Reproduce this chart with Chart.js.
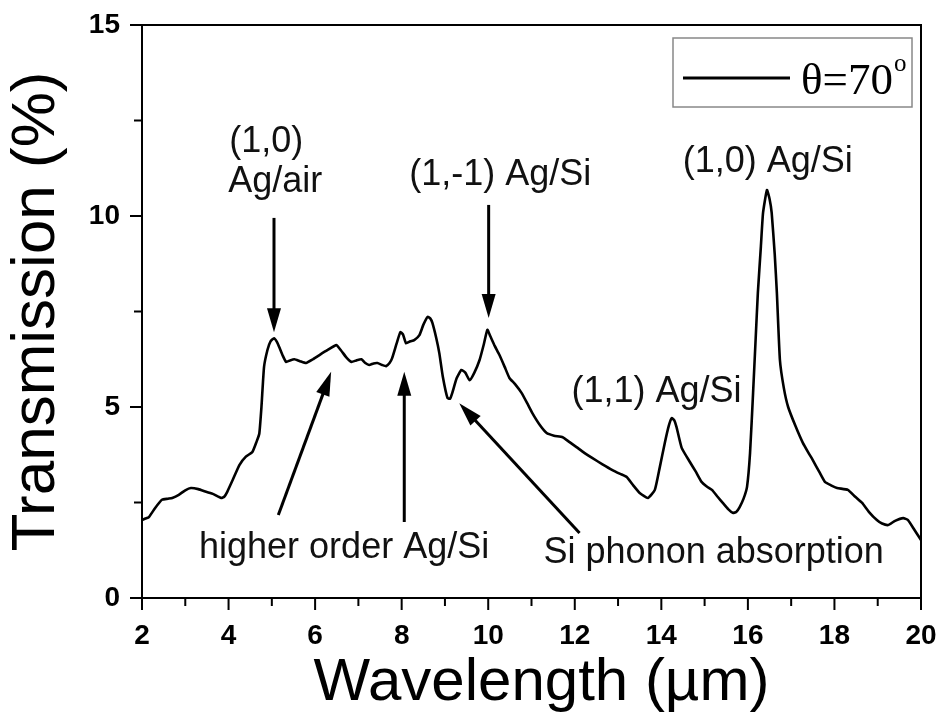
<!DOCTYPE html>
<html>
<head>
<meta charset="utf-8">
<script src="https://cdn.jsdelivr.net/npm/chart.js@4/dist/chart.umd.min.js"></script>
<style>
  html, body { margin: 0; padding: 0; background: #ffffff; }
  #wrap { width: 946px; height: 718px; }
</style>
</head>
<body>
<div id="wrap"><canvas id="chart" width="946" height="718"></canvas></div>
<script>
// Transmission spectrum at 70° incidence
const wavelength = [
  2.00, 2.08, 2.16, 2.30, 2.46, 2.60, 2.70, 2.85, 3.00, 3.13, 3.30, 3.48, 3.65, 3.83, 3.90, 3.97,
  4.10, 4.25, 4.40, 4.55, 4.65, 4.71, 4.76, 4.82, 4.90, 4.97, 5.05, 5.12, 5.17, 5.25, 5.33, 5.42,
  5.52, 5.65, 5.79, 5.95, 6.10, 6.30, 6.49, 6.60, 6.72, 6.84, 6.95, 7.07, 7.16, 7.25, 7.35, 7.44,
  7.55, 7.64, 7.72, 7.78, 7.88, 7.97, 8.03, 8.10, 8.20, 8.29, 8.41, 8.50, 8.60, 8.66, 8.71, 8.80,
  8.87, 8.95, 9.06, 9.12, 9.17, 9.27, 9.38, 9.47, 9.57, 9.68, 9.80, 9.90, 9.98, 10.05, 10.15, 10.26,
  10.38, 10.49, 10.62, 10.77, 10.90, 11.02, 11.18, 11.35, 11.52, 11.72, 11.88, 12.04, 12.22, 12.41, 12.64, 12.87,
  13.05, 13.20, 13.35, 13.50, 13.69, 13.85, 13.96, 14.08, 14.17, 14.24, 14.30, 14.35, 14.47, 14.66, 14.80, 14.93,
  15.05, 15.17, 15.30, 15.42, 15.55, 15.65, 15.73, 15.81, 15.90, 15.98, 16.05, 16.12, 16.18, 16.23, 16.30, 16.35,
  16.44, 16.50, 16.55, 16.62, 16.67, 16.74, 16.83, 16.93, 17.10, 17.27, 17.40, 17.50, 17.65, 17.78, 17.92, 18.06,
  18.31, 18.48, 18.64, 18.80, 18.98, 19.10, 19.24, 19.40, 19.59, 19.70, 19.85, 20.00
];
const transmission = [
  2.04, 2.08, 2.12, 2.35, 2.57, 2.60, 2.62, 2.70, 2.82, 2.88, 2.85, 2.78, 2.72, 2.62, 2.65, 2.78,
  3.10, 3.48, 3.70, 3.82, 4.10, 4.30, 5.00, 6.05, 6.50, 6.72, 6.80, 6.70, 6.57, 6.35, 6.18, 6.22,
  6.25, 6.20, 6.15, 6.25, 6.36, 6.50, 6.62, 6.48, 6.30, 6.18, 6.22, 6.25, 6.15, 6.10, 6.14, 6.15,
  6.10, 6.07, 6.15, 6.28, 6.65, 6.96, 6.90, 6.67, 6.72, 6.75, 6.88, 7.15, 7.36, 7.32, 7.20, 6.80,
  6.41, 5.80, 5.23, 5.22, 5.37, 5.75, 5.97, 5.90, 5.70, 5.90, 6.23, 6.65, 7.02, 6.85, 6.60, 6.36,
  6.05, 5.76, 5.60, 5.37, 5.10, 4.84, 4.55, 4.32, 4.25, 4.21, 4.08, 3.95, 3.80, 3.66, 3.50, 3.35,
  3.25, 3.17, 2.95, 2.75, 2.62, 2.83, 3.40, 4.06, 4.50, 4.71, 4.65, 4.48, 3.93, 3.56, 3.30, 3.04,
  2.92, 2.83, 2.65, 2.49, 2.32, 2.23, 2.25, 2.38, 2.60, 2.91, 3.80, 5.37, 6.80, 7.98, 9.20, 10.08,
  10.68, 10.45, 10.08, 9.00, 7.98, 6.23, 5.50, 5.00, 4.50, 4.06, 3.80, 3.61, 3.30, 3.04, 2.95, 2.88,
  2.83, 2.65, 2.49, 2.25, 2.04, 1.95, 1.91, 2.02, 2.09, 2.04, 1.78, 1.52
];
const xTickValues = [2, 4, 6, 8, 10, 12, 14, 16, 18, 20];
const yTickValues = [0, 5, 10, 15];
const xMinorTicks = [3, 5, 7, 9, 11, 13, 15, 17, 19];
const yMinorTicks = [2.5, 7.5, 12.5];
const xTitle = 'Wavelength (µm)';
const yTitle = 'Transmission (%)';
const seriesLabel = 'θ=70';
const seriesLabelSup = 'o';

// Peak labels and arrows, placed in axis units
const noteTexts = ['(1,0)', 'Ag/air', '(1,-1) Ag/Si', '(1,0) Ag/Si', '(1,1) Ag/Si', 'higher order Ag/Si', 'Si phonon absorption'];
const noteX = [4.87, 5.08, 10.28, 16.46, 13.89, 6.67, 15.21];
const noteY = [11.94, 10.89, 11.07, 11.41, 5.39, 1.31, 1.18];
const arrowFromX = [5.05, 10.01, 5.15, 8.06, 12.11];
const arrowFromY = [9.95, 10.29, 2.17, 1.99, 1.70];
const arrowToX = [5.05, 10.01, 6.37, 8.06, 9.33];
const arrowToY = [6.96, 7.33, 5.92, 5.92, 5.10];

const points = wavelength.map((w, i) => ({ x: w, y: transmission[i] }));
const SANS = '"Liberation Sans", Arial, "DejaVu Sans", sans-serif';
const SERIF = '"Liberation Serif", "Times New Roman", serif';

const decorations = {
  id: 'decorations',
  afterDatasetsDraw(chart) {
    const { ctx, chartArea: a, scales: { x, y } } = chart;
    ctx.save();
    // frame
    ctx.strokeStyle = '#000';
    ctx.lineWidth = 2;
    ctx.strokeRect(a.left, a.top, a.right - a.left, a.bottom - a.top);
    // outward tick marks
    ctx.beginPath();
    xTickValues.forEach(v => { const p = x.getPixelForValue(v); ctx.moveTo(p, a.bottom); ctx.lineTo(p, a.bottom + 12); });
    xMinorTicks.forEach(v => { const p = x.getPixelForValue(v); ctx.moveTo(p, a.bottom); ctx.lineTo(p, a.bottom + 8); });
    yTickValues.forEach(v => { const p = y.getPixelForValue(v); ctx.moveTo(a.left, p); ctx.lineTo(a.left - 12, p); });
    yMinorTicks.forEach(v => { const p = y.getPixelForValue(v); ctx.moveTo(a.left, p); ctx.lineTo(a.left - 8, p); });
    ctx.stroke();

    // x-axis title, a little right of centre
    ctx.fillStyle = '#000';
    ctx.font = '60px ' + SANS;
    ctx.textAlign = 'center';
    ctx.textBaseline = 'alphabetic';
    ctx.fillText(xTitle, (a.left + a.right) / 2 + 10, a.bottom + 102);

    // arrows
    ctx.strokeStyle = '#000';
    ctx.lineWidth = 3;
    for (let i = 0; i < arrowFromX.length; i++) {
      const x0 = x.getPixelForValue(arrowFromX[i]), y0 = y.getPixelForValue(arrowFromY[i]);
      const x1 = x.getPixelForValue(arrowToX[i]), y1 = y.getPixelForValue(arrowToY[i]);
      const ang = Math.atan2(y1 - y0, x1 - x0);
      const headLen = 24, headHalf = 7;
      const bx = x1 - headLen * Math.cos(ang), by = y1 - headLen * Math.sin(ang);
      ctx.beginPath();
      ctx.moveTo(x0, y0);
      ctx.lineTo(bx + 4 * Math.cos(ang), by + 4 * Math.sin(ang));
      ctx.stroke();
      ctx.beginPath();
      ctx.moveTo(x1, y1);
      ctx.lineTo(bx - headHalf * Math.sin(ang), by + headHalf * Math.cos(ang));
      ctx.lineTo(bx + headHalf * Math.sin(ang), by - headHalf * Math.cos(ang));
      ctx.closePath();
      ctx.fill();
    }

    // peak labels
    ctx.fillStyle = '#111';
    ctx.font = '36px ' + SANS;
    ctx.textAlign = 'center';
    ctx.textBaseline = 'middle';
    noteTexts.forEach((t, i) => ctx.fillText(t, x.getPixelForValue(noteX[i]), y.getPixelForValue(noteY[i])));

    // legend box
    const ds = chart.data.datasets[0];
    const lx = a.right - 248, ly = a.top + 13, lw = 239, lh = 69;
    ctx.strokeStyle = '#888';
    ctx.lineWidth = 1.5;
    ctx.strokeRect(lx, ly, lw, lh);
    ctx.strokeStyle = ds.borderColor;
    ctx.lineWidth = 3;
    ctx.beginPath();
    ctx.moveTo(lx + 10, ly + 40);
    ctx.lineTo(lx + 117, ly + 40);
    ctx.stroke();
    ctx.fillStyle = '#000';
    ctx.textAlign = 'left';
    ctx.textBaseline = 'alphabetic';
    ctx.font = '45px ' + SERIF;
    ctx.fillText(ds.label, lx + 128, ly + 56);
    const w = ctx.measureText(ds.label).width;
    ctx.font = '25px ' + SERIF;
    ctx.fillText(seriesLabelSup, lx + 128 + w + 1, ly + 33);
    ctx.restore();
  }
};

new Chart(document.getElementById('chart'), {
  type: 'line',
  data: {
    datasets: [{
      label: seriesLabel,
      data: points,
      borderColor: '#000000',
      borderWidth: 2.6,
      pointRadius: 0,
      tension: 0.15,
      fill: false
    }]
  },
  options: {
    responsive: false,
    animation: false,
    devicePixelRatio: 1,
    layout: { padding: { left: 0, right: 25, top: 25, bottom: 0 } },
    plugins: { legend: { display: false }, tooltip: { enabled: false } },
    scales: {
      x: {
        type: 'linear',
        min: 2, max: 20,
        afterFit(s) { s.height = 120; s.paddingLeft = 0; s.paddingRight = 0; },
        afterBuildTicks(s) { s.ticks = xTickValues.map(v => ({ value: v })); },
        grid: { display: false, drawTicks: false },
        border: { display: false },
        ticks: { color: '#000', padding: 21, maxRotation: 0, font: { family: SANS, size: 28, weight: 'bold' } },
        title: { display: false }
      },
      y: {
        min: 0, max: 15,
        afterFit(s) { s.width = 142; s.paddingTop = 0; s.paddingBottom = 0; },
        afterBuildTicks(s) { s.ticks = yTickValues.map(v => ({ value: v })); },
        grid: { display: false, drawTicks: false },
        border: { display: false },
        ticks: { color: '#000', padding: 22, font: { family: SANS, size: 28, weight: 'bold' } },
        title: { display: true, text: yTitle, color: '#000', padding: { top: 0, bottom: 0 }, font: { family: SANS, size: 62 } }
      }
    }
  },
  plugins: [decorations]
});
</script>
</body>
</html>
